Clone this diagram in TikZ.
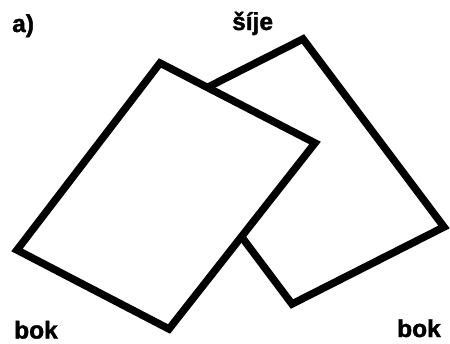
\documentclass[tikz,border=0pt]{standalone}
\usepackage{fontspec}
\setmainfont{Liberation Sans}
\newfontfamily\heavyfont[FakeBold=1.6]{Liberation Sans Bold}
\begin{document}
\begin{tikzpicture}[x=1pt,y=-1pt,
  sheet/.style={draw=black,fill=white,line width=7.5pt,line join=miter},
  lbl/.style={anchor=base west,inner sep=0pt,font=\fontsize{24.5}{28}\heavyfont}]
\useasboundingbox (0,0) rectangle (450,343);
% back sheet
\coordinate (bT) at (303,39);
\coordinate (bR) at (444,227);
\coordinate (bB) at (292,304);
\coordinate (bL) at (151,116);
\draw[sheet] (bT) -- (bR) -- (bB) -- (bL) -- cycle;
% front sheet
\coordinate (fT) at (160,63);
\coordinate (fR) at (315,143);
\coordinate (fB) at (169,329);
\coordinate (fL) at (17,250);
\draw[sheet] (fT) -- (fR) -- (fB) -- (fL) -- cycle;
% labels
\node[lbl] (a) at (12,32) {a)};
\node[lbl] (sije) at (232,30) {šíje};
\node[lbl] (bokL) at (14,338.5) {bok};
\node[lbl] (bokR) at (397,337) {bok};
\end{tikzpicture}
\end{document}
